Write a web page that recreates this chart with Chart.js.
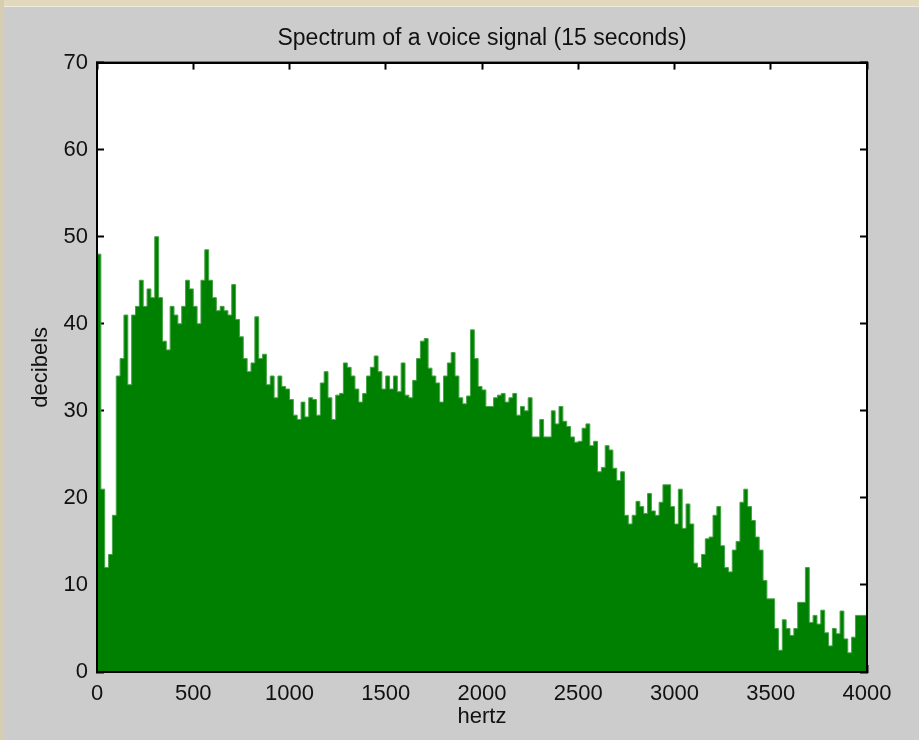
<!DOCTYPE html>
<html>
<head>
<meta charset="utf-8">
<title>Spectrum of a voice signal (15 seconds)</title>
<script src="https://cdn.jsdelivr.net/npm/chart.js@4.4.1/dist/chart.umd.min.js"></script>
<style>
  html, body { margin: 0; padding: 0; background: #cccccc; }
  .janela { position: relative; width: 919px; height: 740px; background: #cccccc; overflow: hidden; }
  .faixa-topo { position: absolute; left: 0; top: 0; width: 919px; height: 6px; background: #e2d9bd; border-bottom: 1px solid #eeeae0; }
  .faixa-esq { position: absolute; left: 0; top: 0; width: 4px; height: 740px; background: #d6cdb3; }
  canvas { position: absolute; left: 0; top: 0; }
</style>
</head>
<body>
<div class="janela">
  <div class="faixa-topo"></div>
  <div class="faixa-esq"></div>
  <canvas id="espectro" width="919" height="740"></canvas>
</div>
<script>
// ================= DADOS =================
// Eixos
const X_MIN = 0
const X_MAX = 4000
const X_STEP = 500
const Y_MIN = 0
const Y_MAX = 70
const Y_STEP = 10

// Largura de cada faixa de frequência (Hz)
const BIN_HZ = 20

// Níveis em dB, uma faixa de 500 Hz por array (25 faixas de 20 Hz cada)
const db0to500 = [48, 21, 12, 13.5, 18, 34, 36, 41, 33, 41, 42, 45, 42, 44, 43, 50, 43, 38, 37, 42, 41, 40, 42, 45, 44]
const db500to1000 = [42, 40, 45, 48.5, 45, 43, 41.5, 42, 41.5, 41, 44.5, 40.5, 38.5, 36, 34.5, 35.5, 40.8, 36, 36.5, 33, 34, 31.5, 34, 32.8, 32.5]
const db1000to1500 = [31.3, 29.5, 29, 31, 29.3, 31.5, 31.3, 29.5, 33.2, 34.5, 31.5, 29, 31.8, 32, 35.5, 35, 34, 32.5, 31, 32, 34, 35, 36.3, 34.5, 32.5]
const db1500to2000 = [34, 32.5, 34, 32.2, 35.5, 31.8, 31.5, 33.5, 36, 38, 38.3, 34.9, 34, 33.2, 31, 34, 35.5, 36.7, 34, 31.5, 30.8, 31.7, 39.3, 36, 32.8]
const db2000to2500 = [32.4, 30.5, 30.5, 31.5, 31.8, 32, 31, 31.5, 32, 29.5, 30.5, 30, 31.5, 27, 27, 29, 27, 27, 30, 28.5, 30.5, 28.8, 28.2, 27, 26.4]
const db2500to3000 = [26.5, 28, 28.5, 26, 26.5, 23, 23.5, 26, 25.5, 23.4, 22, 23, 18, 17, 18, 19.6, 19, 18.2, 20.5, 18.5, 18, 19.5, 21.5, 21.5, 19]
const db3000to3500 = [17, 21, 16.5, 19.3, 17, 12.5, 12, 13.5, 15.3, 15.5, 18, 19, 14.5, 12, 11.5, 14, 15, 19.5, 21, 19, 17.4, 15.5, 14, 10.5, 8.4]
const db3500to4000 = [8.4, 5, 2.5, 6, 5, 4.2, 5, 8, 8, 12, 5.7, 6.5, 5.5, 7.1, 4.5, 3, 5, 4.4, 7, 3.8, 2.2, 4, 6.5, 6.5, 6.5]

// ================= ESTILO =================
const FONTE = "'Liberation Sans Narrow', 'Liberation Sans', Arial, sans-serif"
const COR_TEXTO = "#111111"
const VERDE = "#008000"

// ================= MONTAGEM =================
const espectro = [].concat(
    db0to500, db500to1000, db1000to1500, db1500to2000,
    db2000to2500, db2500to3000, db3000to3500, db3500to4000
)

// Cada ponto marca o início da faixa; o último fecha o degrau em 4000 Hz
const pontos = espectro.map((v, i) => ({ x: i * BIN_HZ, y: v }))
pontos.push({ x: X_MAX, y: espectro[espectro.length - 1] })

/**
 * Fundo branco da área do gráfico e moldura preta por cima dos dados
 */
const moldura = {
    id: "moldura",
    beforeDraw(chart) {
        const { ctx, chartArea: a } = chart
        ctx.save()
        ctx.fillStyle = "#ffffff"
        ctx.fillRect(a.left, a.top, a.right - a.left, a.bottom - a.top)
        ctx.restore()
    },
    afterDatasetsDraw(chart) {
        const { ctx, chartArea: a } = chart
        ctx.save()
        ctx.strokeStyle = "#000000"
        ctx.lineWidth = 2
        ctx.strokeRect(a.left, a.top, a.right - a.left, a.bottom - a.top)
        ctx.restore()
    }
}

// Marcas de escala para dentro (estilo MATLAB)
const gradeInterna = {
    drawOnChartArea: false,
    drawTicks: true,
    tickLength: -7,
    tickColor: "#000000",
    tickWidth: 2
}
const borda = { display: true, color: "#000000", width: 2 }
const fonteEixo = { family: FONTE, size: 22 }

new Chart(document.getElementById("espectro"), {
    type: "line",
    data: {
        datasets: [
            {
                data: pontos,
                stepped: "before",
                fill: "origin",
                backgroundColor: VERDE,
                borderColor: "#45a345",
                borderWidth: 1,
                pointRadius: 0,
                tension: 0
            }
        ]
    },
    options: {
        responsive: false,
        animation: false,
        devicePixelRatio: 1,
        layout: { padding: { left: 0, right: 52, top: 0, bottom: 0 } },
        scales: {
            x: {
                type: "linear",
                position: "bottom",
                min: X_MIN,
                max: X_MAX,
                ticks: {
                    stepSize: X_STEP,
                    color: COR_TEXTO,
                    font: fonteEixo,
                    padding: 16,
                    maxRotation: 0,
                    autoSkip: false,
                    callback: v => String(v)
                },
                grid: gradeInterna,
                border: borda,
                title: {
                    display: true,
                    text: "hertz",
                    color: COR_TEXTO,
                    font: fonteEixo,
                    padding: { top: 0, bottom: 10 }
                },
                afterFit: s => { s.height = 68 }
            },
            y: {
                type: "linear",
                position: "left",
                min: Y_MIN,
                max: Y_MAX,
                ticks: {
                    stepSize: Y_STEP,
                    color: COR_TEXTO,
                    font: fonteEixo,
                    padding: 16,
                    callback: v => String(v)
                },
                grid: gradeInterna,
                border: borda,
                title: {
                    display: true,
                    text: "decibels",
                    color: COR_TEXTO,
                    font: fonteEixo,
                    padding: { top: 28, bottom: 0 }
                },
                afterFit: s => { s.width = 97 }
            },
            x2: {
                type: "linear",
                position: "top",
                min: X_MIN,
                max: X_MAX,
                ticks: { display: false, stepSize: X_STEP },
                grid: gradeInterna,
                border: borda,
                afterFit: s => { s.height = 0 }
            },
            y2: {
                type: "linear",
                position: "right",
                min: Y_MIN,
                max: Y_MAX,
                ticks: { display: false, stepSize: Y_STEP },
                grid: gradeInterna,
                border: borda,
                afterFit: s => { s.width = 0 }
            }
        },
        plugins: {
            legend: { display: false },
            tooltip: { enabled: false },
            title: {
                display: true,
                text: "Spectrum of a voice signal (15 seconds)",
                color: COR_TEXTO,
                fullSize: false,
                font: { family: FONTE, size: 23, weight: "normal" },
                padding: { top: 25, bottom: 10 }
            }
        }
    },
    plugins: [moldura]
})
</script>
</body>
</html>
